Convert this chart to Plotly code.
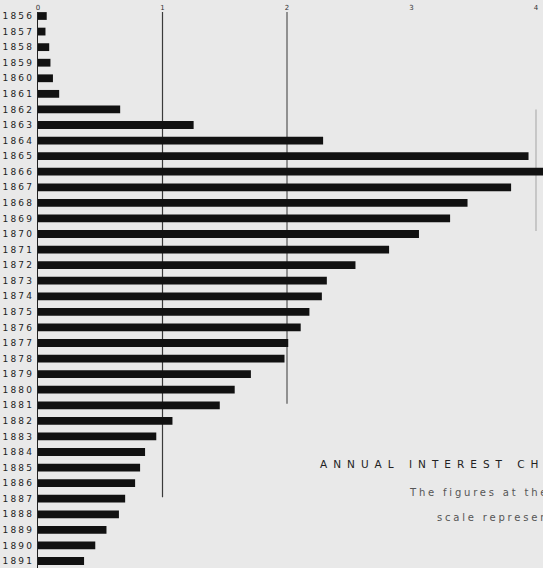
import plotly.graph_objects as go

years = list(range(1856, 1892))
interest = [0.07, 0.06, 0.09, 0.10, 0.12, 0.17, 0.66, 1.25, 2.29, 3.94,
            4.08, 3.80, 3.45, 3.31, 3.06, 2.82, 2.55, 2.32, 2.28, 2.18,
            2.11, 2.01, 1.98, 1.71, 1.58, 1.46, 1.08, 0.95, 0.86, 0.82,
            0.78, 0.70, 0.65, 0.55, 0.46, 0.37]
scale_ticks = [0, 1, 2, 3, 4]

# faint ruled guide lines on the old scan: (x value, first year, last year, colour)
guides = [(1, 1855.6, 1886.9, "#3a3a3a"), (2, 1855.6, 1880.9, "#555555"), (4, 1862.0, 1869.8, "#b0b0b0")]

BG = "#e9e9e9"

fig = go.Figure()
fig.add_trace(go.Bar(
    x=interest, y=years, orientation="h", width=0.5,
    marker=dict(color="#111111", line=dict(width=0)),
    hoverinfo="x+y",
))

for xv, y0, y1, col in guides:
    fig.add_shape(type="line", xref="x", yref="y", x0=xv, x1=xv, y0=y0, y1=y1,
                  line=dict(color=col, width=1.2), layer="below")

fig.update_xaxes(
    side="top", range=[0, 505 / 124.5], tickvals=scale_ticks,
    ticktext=[str(t) for t in scale_ticks], ticks="", showgrid=False,
    zeroline=False, showline=False, tickfont=dict(family="DejaVu Sans", size=7, color="#333"),
)
fig.update_yaxes(
    range=[1891.45, 1855.743], tickvals=years,
    ticktext=[f"<span style='letter-spacing:2.2px'>{y}</span>" for y in years],
    ticks="", showgrid=False, zeroline=False, showline=True, linecolor="#222", linewidth=1,
    tickfont=dict(family="DejaVu Sans", size=9, color="#222"), ticklabelstandoff=1,
)

fig.add_annotation(xref="paper", yref="paper", x=0.554, y=0.187, xanchor="left", yanchor="middle",
                   text="<span style='letter-spacing:6px'>ANNUAL INTEREST CHARGE</span>",
                   showarrow=False, font=dict(family="DejaVu Sans", size=10.5, color="#222"))
fig.add_annotation(xref="paper", yref="paper", x=0.731, y=0.135, xanchor="left", yanchor="middle",
                   text="<span style='letter-spacing:2.8px'>The figures at the</span>",
                   showarrow=False, font=dict(family="DejaVu Sans", size=10, color="#555"))
fig.add_annotation(xref="paper", yref="paper", x=0.786, y=0.09, xanchor="left", yanchor="middle",
                   text="<span style='letter-spacing:2.8px'>scale represent</span>",
                   showarrow=False, font=dict(family="DejaVu Sans", size=10, color="#555"))

fig.update_layout(
    width=543, height=568, margin=dict(l=38, r=0, t=12, b=0),
    paper_bgcolor=BG, plot_bgcolor=BG, showlegend=False,
)

fig.write_html("out.html", config={"displayModeBar": False},
               post_script="document.body.style.margin='0';")
